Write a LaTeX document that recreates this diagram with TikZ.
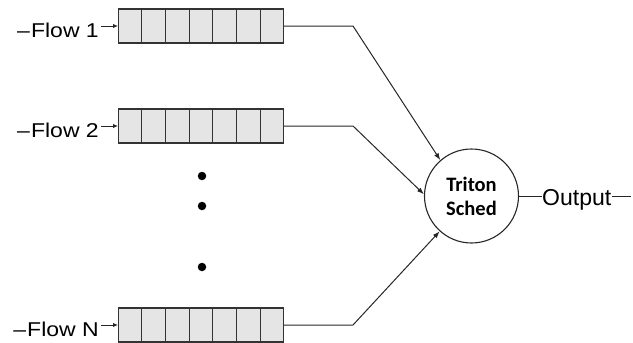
\documentclass[tikz,border=0pt]{standalone}
\usepackage{fontspec}
\setmainfont{Liberation Sans}
\newfontfamily\calib{Carlito}
\usetikzlibrary{arrows.meta,calc}
\newcommand{\flowtxt}[1]{\scalebox{1.15}[1]{\raisebox{-0.04em}{–}\hspace{0.05em}Flow #1}}
\begin{document}
\begin{tikzpicture}[x=1pt,y=-1pt,
  qbox/.style={draw=black!80, fill=black!10, line width=1.1pt, minimum width=165pt, minimum height=34pt, inner sep=0pt, anchor=west},
  flowlbl/.style={font=\fontsize{20}{24}\selectfont, inner sep=0pt, anchor=base east},
  conn/.style={draw=black!85, line width=1pt},
  arr/.style={conn, -{Latex[length=7pt,width=5pt]}},
  smallarr/.style={conn, -{Latex[length=5pt,width=4.5pt]}},
  vdot/.style={circle, fill=black, minimum size=8.5pt, inner sep=0pt},
  sched/.style={circle, draw=black!85, line width=1.1pt, minimum size=94pt, inner sep=0pt, align=center, font=\calib\bfseries\fontsize{20.5}{24}\selectfont}
]
\useasboundingbox (0,0) rectangle (633,343);

% queues
\node[qbox] (q1) at (118,26) {};
\node[qbox] (q2) at (118,126) {};
\node[qbox] (qn) at (118,325) {};
\foreach \q in {q1,q2,qn}{
  \foreach \i in {1,...,6}{
    \draw[draw=black!80, line width=1.1pt] ($(\q.north west)!\i/7!(\q.north east)$) -- ($(\q.south west)!\i/7!(\q.south east)$);
  }
}

% labels
\node[flowlbl] (l1) at (99,37) {\flowtxt{1}};
\node[flowlbl] (l2) at (99,137) {\flowtxt{2}};
\node[flowlbl] (ln) at (99,336) {\flowtxt{N}};
\draw[smallarr] ([xshift=2pt]l1.east |- q1.west) -- (q1.west);
\draw[smallarr] ([xshift=2pt]l2.east |- q2.west) -- (q2.west);
\draw[smallarr] ([xshift=2pt]ln.east |- qn.west) -- (qn.west);

% dots
\node[vdot] (d1) at (202,176) {};
\node[vdot] (d2) at (202,206) {};
\node[vdot] (d3) at (202,267) {};

% scheduler
\node[sched] (s) at (471.5,196) {Triton\\Sched};

\coordinate (b1) at (353,26);
\coordinate (b2) at (353,126);
\coordinate (bn) at (353,325);
\draw[arr] (q1.east) -- (b1) -- (s.131);
\draw[arr] (q2.east) -- (b2) -- (s.178);
\draw[arr] (qn.east) -- (bn) -- (s.228);

% output
\node[font=\fontsize{23}{27}\selectfont, inner sep=0pt, anchor=base west] (out) at (542,205) {Output};
\draw[conn] (s.east) -- (s.east -| out.west);
\coordinate (oe) at (631,196);
\draw[conn] ([xshift=1pt]out.east |- s.east) -- (oe);
\end{tikzpicture}
\end{document}
